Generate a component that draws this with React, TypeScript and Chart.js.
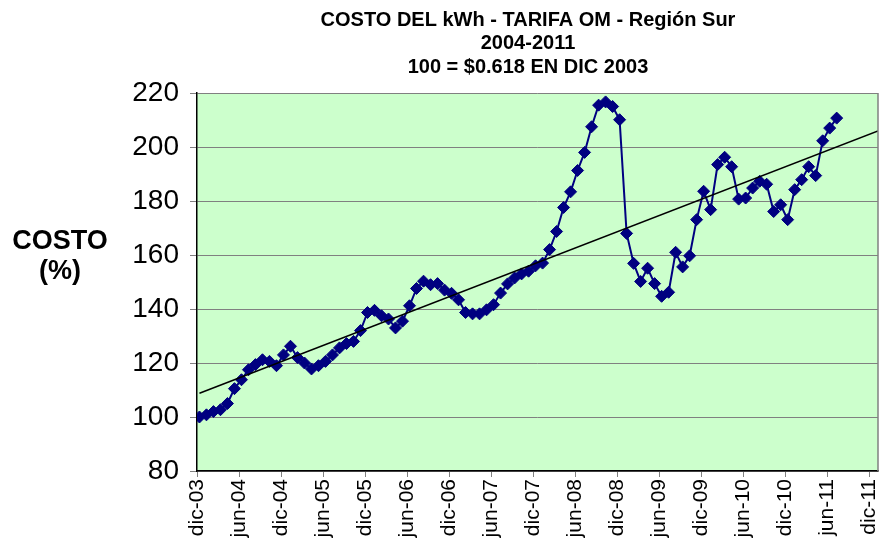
import React, { useEffect, useRef } from "react";
import { Chart, registerables } from "chart.js";

Chart.register(...registerables);

const FONT = '"Liberation Sans", Arial, Helvetica, sans-serif';

const titleLines = ["COSTO DEL kWh - TARIFA OM - Región Sur", "2004-2011", "100 = $0.618 EN DIC 2003"];
const yTitleLines = ["COSTO", "(%)"];

const tickLabels = [
  "dic-03", "jun-04", "dic-04", "jun-05", "dic-05", "jun-06", "dic-06", "jun-07", "dic-07",
  "jun-08", "dic-08", "jun-09", "dic-09", "jun-10", "dic-10", "jun-11", "dic-11",
];

// Monthly index values, dic-03 .. jul-11
const costo = [
  100, 100.8, 102, 102.7, 105, 110.5, 113.8, 117.5, 119.4, 121.2,
  120.6, 119, 123, 126.2, 122, 120, 117.8, 119, 120.6, 123,
  125.6, 127.2, 128, 132, 138.7, 139.5, 137.5, 136.3, 133, 135.5,
  141.2, 147.6, 150.3, 149, 149.4, 147, 145.8, 143.4, 138.7, 138.2,
  138.2, 139.7, 141.6, 145.9, 149.3, 151.5, 153, 154, 156, 157,
  162, 168.7, 177.6, 183.4, 191.3, 198, 207.5, 215.5, 216.7, 215,
  210.1, 168, 156.9, 150.2, 155.1, 149.4, 144.7, 146.2, 161, 155.6,
  159.7, 173.1, 183.6, 176.8, 193.5, 196.2, 192.7, 180.7, 181.1, 184.8,
  187.3, 186.2, 176.1, 178.6, 173.1, 184.2, 187.9, 192.7, 189.4, 202.3,
  207, 210.7,
];

const X_MIN = -0.35;
const X_MAX = 96.9;

function linearFit(ys: number[]) {
  const n = ys.length;
  let sx = 0, sy = 0, sxx = 0, sxy = 0;
  ys.forEach((y, i) => {
    sx += i; sy += y; sxx += i * i; sxy += i * y;
  });
  const b = (n * sxy - sx * sy) / (n * sxx - sx * sx);
  const a = (sy - b * sx) / n;
  return (x: number) => a + b * x;
}

const decorPlugin = {
  id: "decor",
  beforeDraw(chart: any) {
    const { ctx, chartArea: ca } = chart;
    ctx.save();
    ctx.fillStyle = "#CCFFCC";
    ctx.fillRect(ca.left, ca.top, ca.right - ca.left, ca.bottom - ca.top);
    ctx.restore();
  },
  afterDraw(chart: any) {
    const { ctx, chartArea: ca } = chart;
    ctx.save();
    ctx.strokeStyle = "#808080";
    ctx.lineWidth = 1.5;
    ctx.beginPath();
    ctx.moveTo(ca.right, ca.top);
    ctx.lineTo(ca.right, ca.bottom);
    ctx.stroke();

    ctx.fillStyle = "#000";
    ctx.textAlign = "center";
    ctx.textBaseline = "middle";
    ctx.font = `bold 20px ${FONT}`;
    titleLines.forEach((t, i) => ctx.fillText(t, 528, 20 + i * 23.5));
    ctx.font = `bold 27px ${FONT}`;
    yTitleLines.forEach((t, i) => ctx.fillText(t, 60, 242 + i * 30));
    ctx.restore();
  },
};

export default function App() {
  const ref = useRef<HTMLCanvasElement | null>(null);

  useEffect(() => {
    document.body.style.margin = "0";
    const fit = linearFit(costo);
    const chart = new Chart(ref.current as HTMLCanvasElement, {
      type: "line",
      data: {
        datasets: [
          {
            label: "Costo",
            data: costo.map((v, i) => ({ x: i, y: v })),
            borderColor: "#000080",
            backgroundColor: "#000080",
            borderWidth: 2,
            pointStyle: "rectRot",
            pointRadius: 6,
            pointBorderWidth: 1,
            pointBackgroundColor: "#000080",
            pointBorderColor: "#000080",
            tension: 0,
            order: 1,
          },
          {
            label: "Tendencia",
            data: [
              { x: 0, y: fit(0) },
              { x: X_MAX, y: fit(X_MAX) },
            ],
            borderColor: "#000000",
            borderWidth: 1.5,
            pointRadius: 0,
            tension: 0,
            order: 0,
          },
        ],
      },
      options: {
        responsive: false,
        animation: false,
        layout: { padding: { top: 93, right: 5, left: 0, bottom: 0 }, autoPadding: false },
        plugins: {
          legend: { display: false },
          title: { display: false },
          tooltip: { enabled: false },
        },
        scales: {
          x: {
            type: "linear",
            min: X_MIN,
            max: X_MAX,
            afterBuildTicks: (s: any) => {
              s.ticks = tickLabels.map((_, k) => ({ value: k * 6 + X_MIN }));
            },
            afterFit: (s: any) => {
              s.height = 69;
              s.paddingLeft = 0;
              s.paddingRight = 0;
            },
            ticks: {
              autoSkip: false,
              maxRotation: 90,
              minRotation: 90,
              padding: 2,
              color: "#000",
              font: { family: FONT, size: 21 },
              callback: (_v: any, idx: number) => tickLabels[idx],
            },
            grid: { drawOnChartArea: false, drawTicks: true, tickLength: 6, color: "#808080" },
            border: { color: "#000", width: 1.5 },
          },
          y: {
            min: 80,
            max: 220,
            afterFit: (s: any) => {
              s.width = 197;
              s.paddingTop = 0;
              s.paddingBottom = 0;
            },
            ticks: {
              stepSize: 20,
              padding: 11,
              color: "#000",
              font: { family: FONT, size: 28 },
            },
            grid: { color: "#808080", tickLength: 7, lineWidth: 1 },
            border: { color: "#000", width: 1.5 },
          },
        },
      },
      plugins: [decorPlugin],
    } as any);
    return () => chart.destroy();
  }, []);

  return (
    <div style={{ width: 883, height: 540 }}>
      <canvas ref={ref} width={883} height={540} style={{ display: "block" }} />
    </div>
  );
}
